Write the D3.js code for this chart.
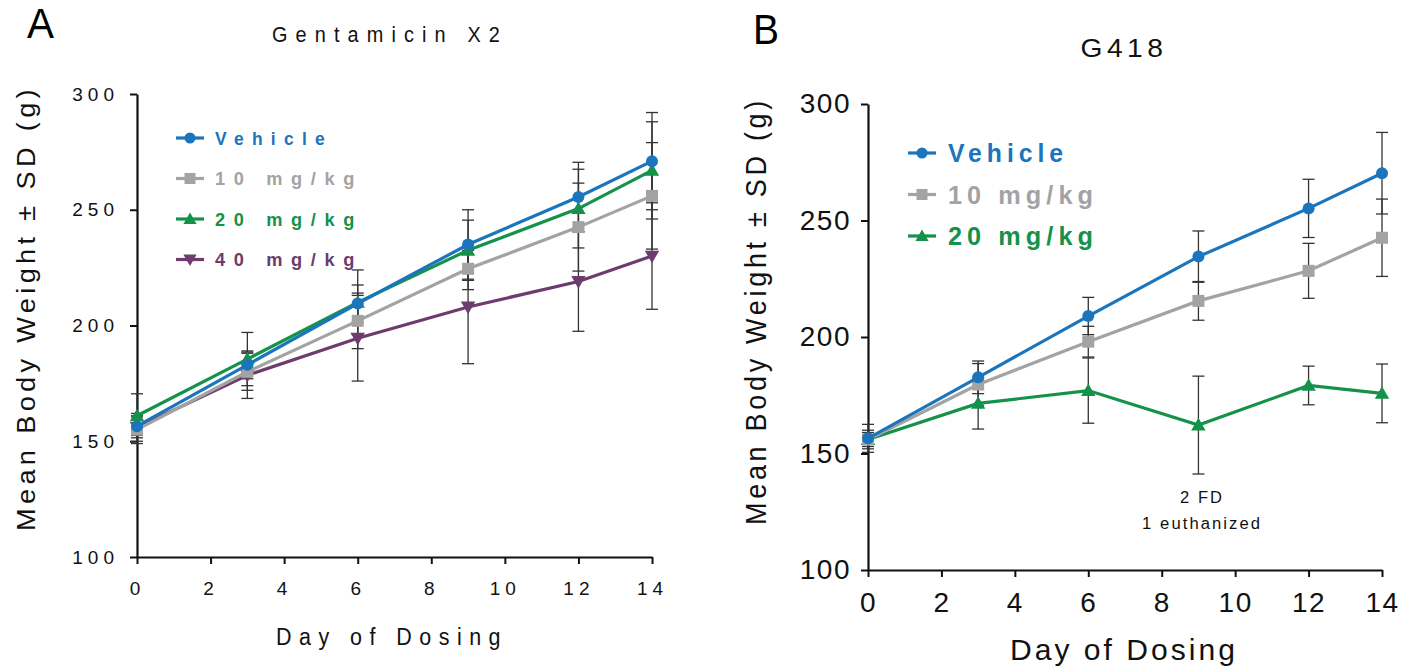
<!DOCTYPE html>
<html>
<head>
<meta charset="utf-8">
<script src="https://cdn.jsdelivr.net/npm/d3@7"></script>
<style>
  body { margin: 0; background: #fff; }
  svg { display: block; font-family: "Liberation Sans", Arial, sans-serif; }
</style>
</head>
<body>
<div id="chart"></div>
<script>
// Data
const days = [0, 3, 6, 9, 12, 14];

// Panel A: Gentamicin X2
const aVehicle = [156.5, 183, 209.5, 235, 255.5, 271];
const aVehicleSD = [4, 6, 8, 15, 15, 21];
const a10 = [155, 180, 202, 224.5, 242.5, 256];
const a10SD = [6, 8, 12, 9, 19, 23];
const a20 = [161, 185.5, 210, 232.5, 250.5, 267];
const a20SD = [9.5, 11.5, 14, 13, 17, 21];
const a40 = [156, 178.5, 194.5, 208, 219, 230];
const a40SD = [6, 10, 18.5, 24.5, 21.5, 23];

// Panel B: G418
const bVehicle = [156.5, 182.7, 209, 234.5, 255.2, 270.3];
const bVehicleSD = [6, 7, 8, 11, 12.5, 17.5];
const b10 = [156, 179.6, 198, 215.5, 228.4, 242.6];
const b10SD = [4, 9, 6.6, 8.3, 11.8, 16.6];
const b20 = [156, 171.5, 177, 162.2, 179.2, 175.8];
const b20SD = [3, 11, 14, 21, 8.3, 12.6];

const yTicks = [100, 150, 200, 250, 300];
const xTicks = [0, 2, 4, 6, 8, 10, 12, 14];

const colors = { vehicle: "#1b75bc", g10: "#a3a3a3", g20: "#15924a", g40: "#6d3b6d" };

const width = 1408, height = 666;
const svg = d3.select("#chart").append("svg")
    .attr("width", width)
    .attr("height", height);

function makeSeries(name, label, vals, sds, color, symbol) {
    return { name, label, color, symbol, points: days.map((d, i) => ({ day: d, v: vals[i], sd: sds[i] })) };
}

const seriesA = [
    makeSeries("g40", "40 mg/kg", a40, a40SD, colors.g40, "tri-down"),
    makeSeries("g10", "10 mg/kg", a10, a10SD, colors.g10, "square"),
    makeSeries("g20", "20 mg/kg", a20, a20SD, colors.g20, "triangle"),
    makeSeries("vehicle", "Vehicle", aVehicle, aVehicleSD, colors.vehicle, "circle")
];
const legendA = ["vehicle", "g10", "g20", "g40"];

const seriesB = [
    makeSeries("g20", "20 mg/kg", b20, b20SD, colors.g20, "triangle"),
    makeSeries("g10", "10 mg/kg", b10, b10SD, colors.g10, "square"),
    makeSeries("vehicle", "Vehicle", bVehicle, bVehicleSD, colors.vehicle, "circle")
];
const legendB = ["vehicle", "g10", "g20"];

// squeeze a text into a given width (the original uses a condensed face)
function fit(sel, w) {
    if (w) sel.attr("textLength", w).attr("lengthAdjust", "spacingAndGlyphs");
    return sel;
}

function drawMarker(g, type, x, y, size, color) {
    if (type === "circle") {
        g.append("circle").attr("cx", x).attr("cy", y).attr("r", size).attr("fill", color);
    } else if (type === "square") {
        g.append("rect").attr("x", x - size).attr("y", y - size)
            .attr("width", size * 2).attr("height", size * 2).attr("fill", color);
    } else if (type === "triangle") {
        const s = size * 1.2;
        g.append("path").attr("d", `M${x},${y - s}L${x + s},${y + s * 0.75}L${x - s},${y + s * 0.75}Z`).attr("fill", color);
    } else {
        const s = size * 1.2;
        g.append("path").attr("d", `M${x},${y + s}L${x + s},${y - s * 0.75}L${x - s},${y - s * 0.75}Z`).attr("fill", color);
    }
}

function drawPanel(opt) {
    const x = d3.scaleLinear().domain([0, 14]).range(opt.xRange);
    const y = d3.scaleLinear().domain([100, 300]).range(opt.yRange);
    const g = svg.append("g");

    // axes
    const xAxis = g.append("g")
        .attr("transform", `translate(0,${opt.yRange[0]})`)
        .call(d3.axisBottom(x).tickValues(xTicks).tickSize(7).tickPadding(opt.xPad).tickSizeOuter(0));
    const yAxis = g.append("g")
        .attr("transform", `translate(${opt.xRange[0]},0)`)
        .call(d3.axisLeft(y).tickValues(yTicks).tickSize(7).tickPadding(opt.yPad).tickSizeOuter(0));
    [xAxis, yAxis].forEach(a => {
        a.select(".domain").attr("stroke", "#111").attr("stroke-width", 2.2);
        a.selectAll(".tick line").attr("stroke", "#111").attr("stroke-width", 2);
        a.selectAll("text").attr("fill", "#111")
            .style("font-family", opt.font)
            .style("font-size", opt.tickSize + "px")
            .style("letter-spacing", opt.tickSpacing + "px");
    });

    // error bars
    const cap = 6;
    opt.series.forEach(s => {
        s.points.forEach(p => {
            const cx = x(p.day), y1 = y(p.v + p.sd), y2 = y(p.v - p.sd);
            g.append("line").attr("x1", cx).attr("x2", cx).attr("y1", y1).attr("y2", y2)
                .attr("stroke", "#333").attr("stroke-width", 1.3);
            [y1, y2].forEach(yy => g.append("line")
                .attr("x1", cx - cap).attr("x2", cx + cap).attr("y1", yy).attr("y2", yy)
                .attr("stroke", "#333").attr("stroke-width", 1.3));
        });
    });

    // lines and markers
    const line = d3.line().x(d => x(d.day)).y(d => y(d.v));
    opt.series.forEach(s => {
        g.append("path").datum(s.points).attr("d", line)
            .attr("fill", "none").attr("stroke", s.color).attr("stroke-width", 3.2);
        s.points.forEach(p => drawMarker(g, s.symbol, x(p.day), y(p.v), 6, s.color));
    });

    // legend
    opt.legendOrder.forEach((name, i) => {
        const s = opt.series.find(d => d.name === name);
        const ly = opt.legend.y + i * opt.legend.step;
        g.append("line").attr("x1", opt.legend.x).attr("x2", opt.legend.x + opt.legend.len)
            .attr("y1", ly).attr("y2", ly).attr("stroke", s.color).attr("stroke-width", 3.2);
        drawMarker(g, s.symbol, opt.legend.x + opt.legend.len / 2, ly, 5.5, s.color);
        const t = g.append("text").attr("x", opt.legend.x + opt.legend.len + opt.legend.gap).attr("y", ly)
            .attr("dy", "0.36em")
            .attr("fill", s.color)
            .style("font-family", opt.font)
            .style("font-weight", "bold")
            .style("font-size", opt.legend.size + "px")
            .style("letter-spacing", opt.legend.spacing + "px")
            .text(s.label);
        fit(t, opt.legend.widths[i]);
    });

    // titles
    fit(g.append("text").attr("x", opt.title.x).attr("y", opt.title.y)
        .attr("text-anchor", "middle").attr("fill", "#111")
        .style("font-family", opt.font)
        .style("font-size", opt.title.size + "px")
        .style("letter-spacing", opt.title.spacing + "px")
        .text(opt.title.text), opt.title.w);
    fit(g.append("text").attr("x", opt.letter.x).attr("y", opt.letter.y)
        .attr("fill", "#000")
        .style("font-family", opt.font)
        .style("font-size", opt.letter.size + "px")
        .text(opt.letter.text), opt.letter.w);
    fit(g.append("text")
        .attr("transform", `translate(${opt.yLabel.x},${opt.yLabel.cy}) rotate(-90)`)
        .attr("text-anchor", "middle").attr("fill", "#111")
        .style("font-family", opt.font)
        .style("font-size", opt.yLabel.size + "px")
        .style("letter-spacing", opt.yLabel.spacing + "px")
        .text("Mean Body Weight \u00b1 SD (g)"), opt.yLabel.w);
    fit(g.append("text")
        .attr("x", opt.xLabel.cx).attr("y", opt.xLabel.y)
        .attr("text-anchor", "middle").attr("fill", "#111")
        .style("font-family", opt.font)
        .style("font-size", opt.xLabel.size + "px")
        .style("letter-spacing", opt.xLabel.spacing + "px")
        .text("Day of Dosing"), opt.xLabel.w);

    return { x, y, g };
}

const sans = "'Liberation Sans', Arial, sans-serif";

drawPanel({
    xRange: [137, 652], yRange: [557, 94],
    series: seriesA, legendOrder: legendA,
    font: sans, tickSize: 19, tickSpacing: 5, xPad: 18, yPad: 11,
    legend: { x: 176, y: 138, step: 40.5, len: 28, gap: 11, size: 19, spacing: 9, widths: [118, 148, 148, 148] },
    title: { x: 390, y: 42, size: 22, spacing: 9, w: 236, text: "Gentamicin X2" },
    letter: { x: 27, y: 38, size: 42, w: 27, text: "A" },
    yLabel: { x: 35, cy: 308, size: 25, spacing: 4, w: 446 },
    xLabel: { cx: 392, y: 645, size: 23, spacing: 8, w: 232 }
});

const pB = drawPanel({
    xRange: [868, 1382], yRange: [570, 104],
    series: seriesB, legendOrder: legendB,
    font: sans, tickSize: 28, tickSpacing: 1.5, xPad: 15, yPad: 10,
    legend: { x: 908, y: 153, step: 41.5, len: 28, gap: 12, size: 25, spacing: 5, widths: [120, 150, 150] },
    title: { x: 1124, y: 57, size: 25, spacing: 4, w: 87, text: "G418" },
    letter: { x: 753, y: 44, size: 42, w: 26, text: "B" },
    yLabel: { x: 766, cy: 311, size: 29, spacing: 4, w: 428 },
    xLabel: { cx: 1124, y: 660, size: 30, spacing: 3, w: 228 }
});

// annotation under day 9 in panel B
const note = pB.g.append("g").attr("fill", "#111")
    .style("font-family", sans).style("font-size", "16px").style("letter-spacing", "2px");
fit(note.append("text").attr("text-anchor", "middle")
    .attr("x", pB.x(9.1)).attr("y", pB.y(131.5) + 6).text("2 FD"), 44);
fit(note.append("text").attr("text-anchor", "middle")
    .attr("x", pB.x(9.1)).attr("y", pB.y(120.3) + 6).text("1 euthanized"), 120);
</script>
</body>
</html>
